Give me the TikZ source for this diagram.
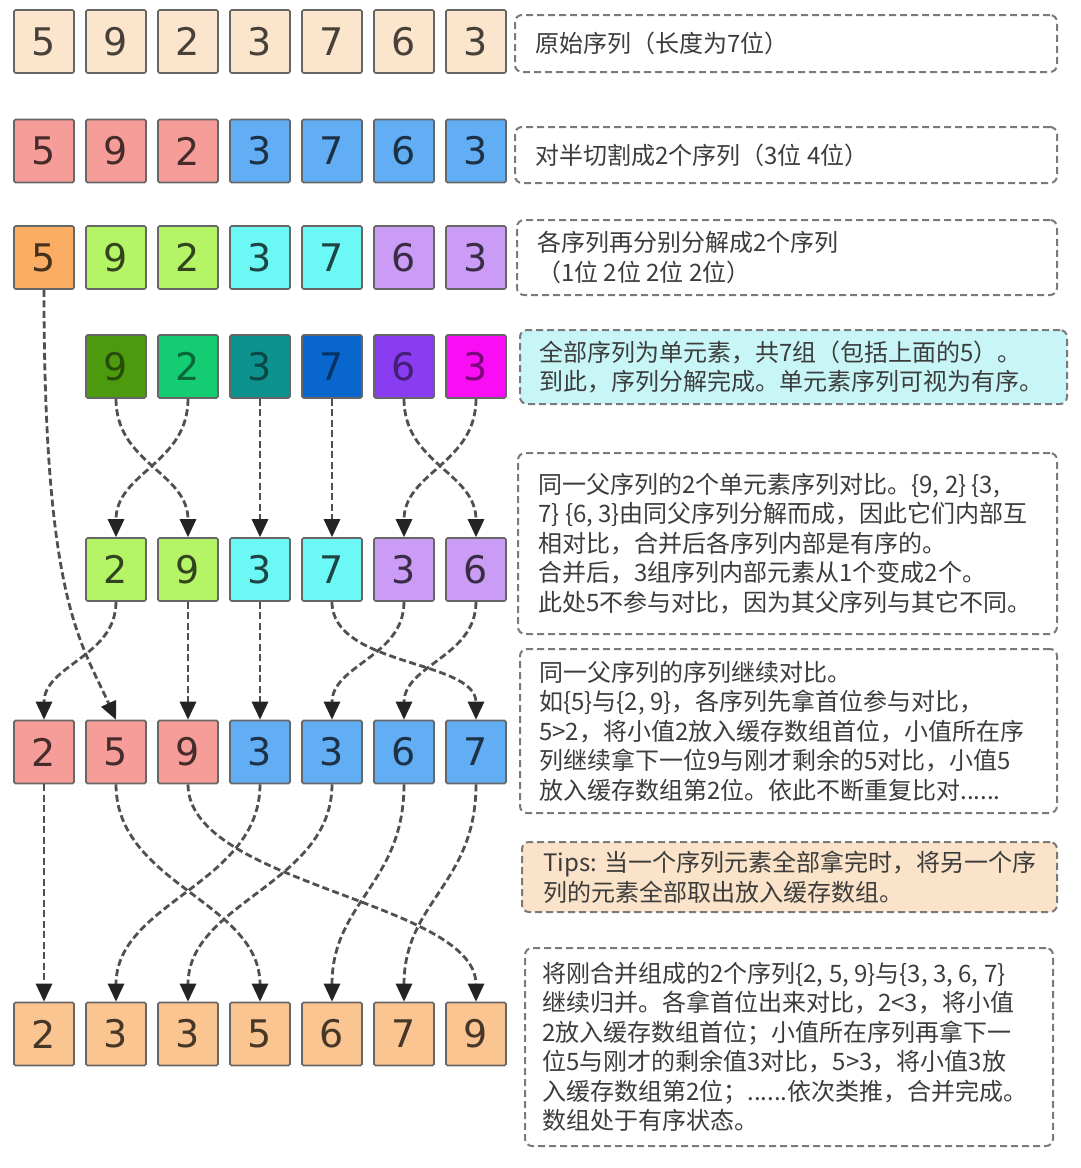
\documentclass[tikz,border=0pt]{standalone}
\usepackage{fontspec}
\newfontfamily\cjk{Noto Sans CJK SC}
\newfontfamily\digitfont{DejaVu Sans}
\usetikzlibrary{arrows.meta}
\definecolor{cellborder}{HTML}{666666}
\definecolor{boxborder}{HTML}{7A7A7A}
\definecolor{conncol}{HTML}{505050}
\definecolor{arrowcol}{HTML}{242424}
\definecolor{textgray}{HTML}{3C3C3C}
\definecolor{cpeach}{HTML}{FCE5CD}
\definecolor{cpink}{HTML}{F69D99}
\definecolor{cblue}{HTML}{62AEF5}
\definecolor{corange}{HTML}{FBAE63}
\definecolor{clgreen}{HTML}{B4F466}
\definecolor{ccyan}{HTML}{6CF8F5}
\definecolor{clav}{HTML}{CB9CF5}
\definecolor{cdkgreen}{HTML}{4C9A0E}
\definecolor{cgreen}{HTML}{14CD72}
\definecolor{cteal}{HTML}{0E928E}
\definecolor{cdkblue}{HTML}{0866CC}
\definecolor{cpurple}{HTML}{8A3CF0}
\definecolor{cmagenta}{HTML}{F80DF4}
\definecolor{cfinal}{HTML}{FAC590}
\definecolor{tipfill}{HTML}{FAE3C8}
\definecolor{cyanfill}{HTML}{C8F6F6}
\begin{document}
\begin{tikzpicture}[x=1pt,y=-1pt,
  cell/.style={draw=cellborder, line width=1.6pt, rounded corners=1.5pt,
    minimum width=60pt, minimum height=63pt, inner sep=0pt,
    font=\digitfont\fontsize{38}{40}\selectfont, fill=#1, text=#1!28!black},
  dcell/.style={cell=#1, text=#1!50!black},
  tbox/.style={draw=boxborder, line width=2pt, dash pattern=on 7pt off 4pt,
    rounded corners=7pt, fill=#1, inner sep=0pt},
  txt/.style={anchor=west, align=left, inner sep=0pt, text=textgray,
    font=\cjk\fontsize{24}{29.5}\selectfont},
  conn/.style={draw=conncol, line width=2.8pt, dash pattern=on 7pt off 3.5pt,
    -{Triangle[length=18pt,width=16pt,color=arrowcol,fill=arrowcol]}}
]
\fill[white] (0,0) rectangle (1080,1168);
\useasboundingbox (0,0) rectangle (1080,1168);

% row 1
\node[cell=cpeach] (r1c1) at (44,41.5) {5};
\node[cell=cpeach] (r1c2) at (116,41.5) {9};
\node[cell=cpeach] (r1c3) at (188,41.5) {2};
\node[cell=cpeach] (r1c4) at (260,41.5) {3};
\node[cell=cpeach] (r1c5) at (332,41.5) {7};
\node[cell=cpeach] (r1c6) at (404,41.5) {6};
\node[cell=cpeach] (r1c7) at (476,41.5) {3};
% row 2
\node[cell=cpink] (r2c1) at (44,151) {5};
\node[cell=cpink] (r2c2) at (116,151) {9};
\node[cell=cpink] (r2c3) at (188,151) {2};
\node[cell=cblue] (r2c4) at (260,151) {3};
\node[cell=cblue] (r2c5) at (332,151) {7};
\node[cell=cblue] (r2c6) at (404,151) {6};
\node[cell=cblue] (r2c7) at (476,151) {3};
% row 3
\node[cell=corange] (r3c1) at (44,257.5) {5};
\node[cell=clgreen] (r3c2) at (116,257.5) {9};
\node[cell=clgreen] (r3c3) at (188,257.5) {2};
\node[cell=ccyan] (r3c4) at (260,257.5) {3};
\node[cell=ccyan] (r3c5) at (332,257.5) {7};
\node[cell=clav] (r3c6) at (404,257.5) {6};
\node[cell=clav] (r3c7) at (476,257.5) {3};
% row 4
\node[dcell=cdkgreen] (r4c2) at (116,366.5) {9};
\node[dcell=cgreen] (r4c3) at (188,366.5) {2};
\node[dcell=cteal] (r4c4) at (260,366.5) {3};
\node[dcell=cdkblue] (r4c5) at (332,366.5) {7};
\node[dcell=cpurple] (r4c6) at (404,366.5) {6};
\node[dcell=cmagenta] (r4c7) at (476,366.5) {3};
% row 5
\node[cell=clgreen] (r5c2) at (116,569.5) {2};
\node[cell=clgreen] (r5c3) at (188,569.5) {9};
\node[cell=ccyan] (r5c4) at (260,569.5) {3};
\node[cell=ccyan] (r5c5) at (332,569.5) {7};
\node[cell=clav] (r5c6) at (404,569.5) {3};
\node[cell=clav] (r5c7) at (476,569.5) {6};
% row 6
\node[cell=cpink] (r6c1) at (44,752) {2};
\node[cell=cpink] (r6c2) at (116,752) {5};
\node[cell=cpink] (r6c3) at (188,752) {9};
\node[cell=cblue] (r6c4) at (260,752) {3};
\node[cell=cblue] (r6c5) at (332,752) {3};
\node[cell=cblue] (r6c6) at (404,752) {6};
\node[cell=cblue] (r6c7) at (476,752) {7};
% row 7
\node[cell=cfinal] (r7c1) at (44,1034) {2};
\node[cell=cfinal] (r7c2) at (116,1034) {3};
\node[cell=cfinal] (r7c3) at (188,1034) {3};
\node[cell=cfinal] (r7c4) at (260,1034) {5};
\node[cell=cfinal] (r7c5) at (332,1034) {6};
\node[cell=cfinal] (r7c6) at (404,1034) {7};
\node[cell=cfinal] (r7c7) at (476,1034) {9};

% connectors row 4 -> row 5
\draw[conn] (r4c2.south) .. controls +(0,65) and +(0,-65) .. (r5c3.north);
\draw[conn] (r4c3.south) .. controls +(0,65) and +(0,-65) .. (r5c2.north);
\draw[conn] (r4c4.south) -- (r5c4.north);
\draw[conn] (r4c5.south) -- (r5c5.north);
\draw[conn] (r4c6.south) .. controls +(0,65) and +(0,-65) .. (r5c7.north);
\draw[conn] (r4c7.south) .. controls +(0,65) and +(0,-65) .. (r5c6.north);
% connectors row 5 -> row 6
\draw[conn] (r3c1.south) .. controls +(0,310) and (80,640) .. (r6c2.north);
\draw[conn] (r5c2.south) .. controls +(0,55) and +(0,-55) .. (r6c1.north);
\draw[conn] (r5c3.south) -- (r6c3.north);
\draw[conn] (r5c4.south) -- (r6c4.north);
\draw[conn] (r5c5.south) .. controls +(0,65) and +(0,-60) .. (r6c7.north);
\draw[conn] (r5c6.south) .. controls +(0,55) and +(0,-55) .. (r6c5.north);
\draw[conn] (r5c7.south) .. controls +(0,55) and +(0,-55) .. (r6c6.north);
% connectors row 6 -> row 7
\draw[conn] (r6c1.south) -- (r7c1.north);
\draw[conn] (r6c2.south) .. controls +(0,100) and +(0,-100) .. (r7c4.north);
\draw[conn] (r6c3.south) .. controls +(0,100) and +(0,-100) .. (r7c7.north);
\draw[conn] (r6c4.south) .. controls +(0,100) and +(0,-100) .. (r7c2.north);
\draw[conn] (r6c5.south) .. controls +(0,100) and +(0,-100) .. (r7c3.north);
\draw[conn] (r6c6.south) .. controls +(0,100) and +(0,-100) .. (r7c5.north);
\draw[conn] (r6c7.south) .. controls +(0,100) and +(0,-100) .. (r7c6.north);

% text boxes
\node[tbox=white, minimum width=542pt, minimum height=57pt] (t1) at (786,43.5) {};
\node[txt] (l1) at ([xshift=21pt]t1.west) {原始序列（长度为7位）};
\node[tbox=white, minimum width=542pt, minimum height=56pt] (t2) at (786,155) {};
\node[txt] (l2) at ([xshift=21pt]t2.west) {对半切割成2个序列（3位 4位）};
\node[tbox=white, minimum width=540pt, minimum height=75pt] (t3) at (787,257.5) {};
\node[txt] (l3) at ([xshift=21pt]t3.west) {各序列再分别分解成2个序列\\（1位 2位 2位 2位）};
\node[tbox=cyanfill, minimum width=547pt, minimum height=74pt] (t4) at (793.5,367) {};
\node[txt] (l4) at ([xshift=20pt]t4.west) {全部序列为单元素，共7组（包括上面的5）。\\到此，序列分解完成。单元素序列可视为有序。};
\node[tbox=white, minimum width=539pt, minimum height=181pt] (t5) at (787.5,543.5) {};
\node[txt] (l5) at ([xshift=21pt]t5.west) {同一父序列的2个单元素序列对比。\{9, 2\} \{3,\\7\} \{6, 3\}由同父序列分解而成，因此它们内部互\\相对比，合并后各序列内部是有序的。\\合并后，3组序列内部元素从1个变成2个。\\此处5不参与对比，因为其父序列与其它不同。};
\node[tbox=white, minimum width=537pt, minimum height=164pt] (t6) at (788.5,731) {};
\node[txt] (l6) at ([xshift=20pt]t6.west) {同一父序列的序列继续对比。\\如\{5\}与\{2, 9\}，各序列先拿首位参与对比，\\5>2，将小值2放入缓存数组首位，小值所在序\\列继续拿下一位9与刚才剩余的5对比，小值5\\放入缓存数组第2位。依此不断重复比对......};
\node[tbox=tipfill, minimum width=535pt, minimum height=70pt] (t7) at (789.5,877) {};
\node[txt] (l7) at ([xshift=22pt]t7.west) {Tips: 当一个序列元素全部拿完时，将另一个序\\列的元素全部取出放入缓存数组。};
\node[tbox=white, minimum width=528pt, minimum height=198pt] (t8) at (789,1047) {};
\node[txt] (l8) at ([xshift=18pt]t8.west) {将刚合并组成的2个序列\{2, 5, 9\}与\{3, 3, 6, 7\}\\继续归并。各拿首位出来对比，2<3，将小值\\2放入缓存数组首位；小值所在序列再拿下一\\位5与刚才的剩余值3对比，5>3，将小值3放\\入缓存数组第2位；......依次类推，合并完成。\\数组处于有序状态。};
\end{tikzpicture}
\end{document}
